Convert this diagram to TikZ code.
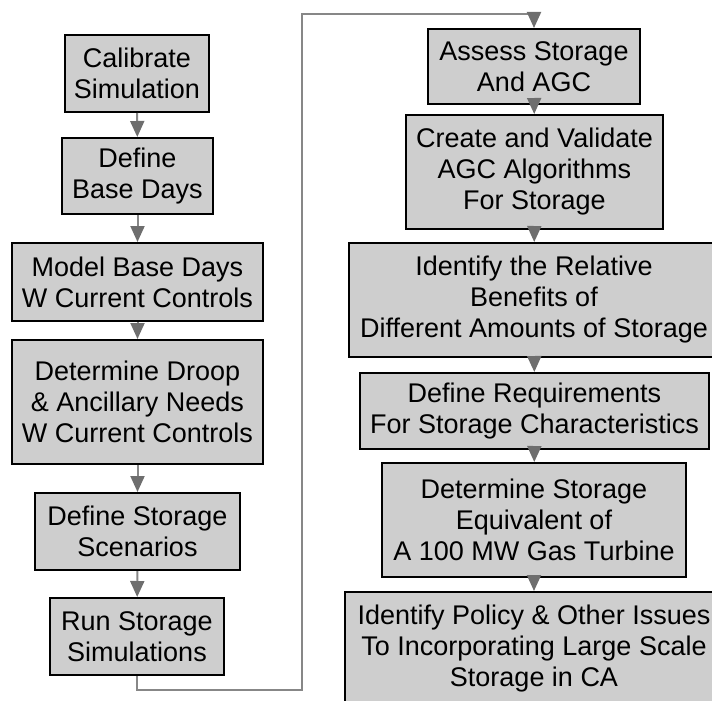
\documentclass[tikz,border=0pt]{standalone}
\usepackage{fontspec}
\setmainfont{Liberation Sans}
\usetikzlibrary{arrows.meta}
\definecolor{boxfill}{RGB}{206,206,206}
\definecolor{linkgray}{RGB}{135,135,135}
\definecolor{tipgray}{RGB}{110,110,110}

\begin{document}
\begin{tikzpicture}[x=1pt, y=-1pt,
  stepbox/.style={draw=black, line width=2pt, fill=boxfill, align=center, inner sep=0pt,
    font=\fontsize{27}{31}\selectfont},
  link/.style={draw=linkgray, line width=2pt,
    -{Triangle[width=14pt,length=16pt,fill=tipgray,color=tipgray]}}]
\useasboundingbox (0,0) rectangle (712,701);
\clip (0,0) rectangle (712,701);
% left column
\node[stepbox, minimum width=144pt, minimum height=77pt] (cal) at (137,73.5) {Calibrate\\Simulation};
\node[stepbox, minimum width=151pt, minimum height=76pt] (base) at (137.5,176) {Define\\Base Days};
\node[stepbox, minimum width=251pt, minimum height=78pt] (model) at (137.5,282) {Model Base Days\\W Current Controls};
\node[stepbox, minimum width=251pt, minimum height=124pt] (droop) at (137.5,402) {Determine Droop\\\& Ancillary Needs\\W Current Controls};
\node[stepbox, minimum width=205pt, minimum height=77pt] (scen) at (137.5,531.5) {Define Storage\\Scenarios};
\node[stepbox, minimum width=174pt, minimum height=77pt] (run) at (137,636.5) {Run Storage\\Simulations};
% right column
\node[stepbox, minimum width=212pt, minimum height=75pt] (assess) at (534,66.5) {Assess Storage\\And AGC};
\node[stepbox, minimum width=257pt, minimum height=114pt] (agc) at (534.5,172) {Create and Validate\\AGC Algorithms\\For Storage};
\node[stepbox, minimum width=370pt, minimum height=114pt] (benefit) at (534,300) {Identify the Relative\\Benefits of\\Different Amounts of Storage};
\node[stepbox, minimum width=349pt, minimum height=76pt] (req) at (534.5,411) {Define Requirements\\For Storage Characteristics};
\node[stepbox, minimum width=304pt, minimum height=114pt] (equiv) at (534,520) {Determine Storage\\Equivalent of\\A 100 MW Gas Turbine};
\node[stepbox, minimum width=378pt, minimum height=114pt] (policy) at (534,649) {Identify Policy \& Other Issues\\To Incorporating Large Scale\\Storage in CA};
% turns of the long link
\coordinate (turnA) at (302,690);
\coordinate (turnB) at (302,14);
% links
\draw[link] (cal) -- (base);
\draw[link] (base) -- (model);
\draw[link] (model) -- (droop);
\draw[link] (droop) -- (scen);
\draw[link] (scen) -- (run);
\draw[link] (run.south) |- (turnA) |- (turnB) -| (assess.north);
\draw[link] (assess) -- (agc);
\draw[link] (agc) -- (benefit);
\draw[link] (benefit) -- (req);
\draw[link] (req) -- (equiv);
\draw[link] (equiv) -- (policy);
\end{tikzpicture}
\end{document}
